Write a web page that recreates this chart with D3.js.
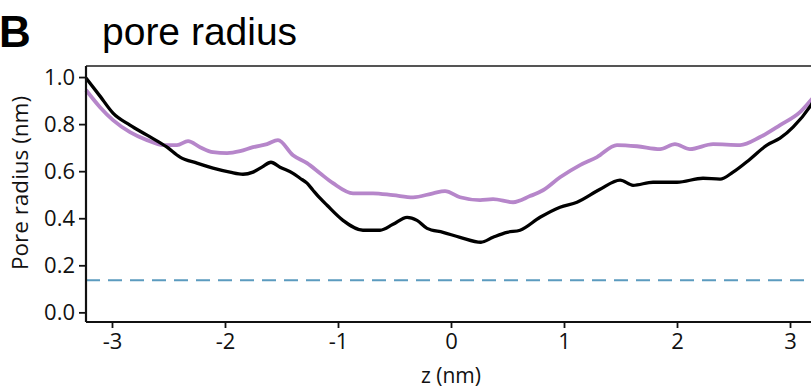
<!DOCTYPE html>
<html>
<head>
<meta charset="utf-8">
<script src="https://cdn.jsdelivr.net/npm/d3@7"></script>
<style>
  html, body { margin: 0; padding: 0; background: #fff; }
  svg { display: block; }
</style>
</head>
<body>
<svg id="chart" width="811" height="388"></svg>
<script>
// ---- data ----
const blackZ = [-3.23,-3.106,-2.991,-2.841,-2.690,-2.513,-2.398,-2.248,-2.106,-1.956,-1.841,-1.752,-1.673,-1.593,-1.513,-1.398,-1.336,-1.274,-1.221,-1.159,-1.097,-0.956,-0.779,-0.628,-0.513,-0.389,-0.301,-0.212,-0.071,0.080,0.265,0.372,0.496,0.611,0.788,0.965,1.115,1.319,1.496,1.611,1.788,2.000,2.230,2.381,2.496,2.646,2.796,2.912,3.027,3.186,3.23];
const blackR = [0.996,0.919,0.847,0.796,0.753,0.702,0.660,0.634,0.613,0.596,0.587,0.596,0.617,0.638,0.617,0.591,0.570,0.549,0.519,0.485,0.455,0.391,0.349,0.349,0.374,0.404,0.391,0.357,0.340,0.319,0.298,0.319,0.340,0.349,0.404,0.447,0.468,0.523,0.562,0.540,0.553,0.553,0.570,0.566,0.596,0.651,0.711,0.740,0.787,0.881,0.915];
const purpleZ = [-3.23,-3.106,-2.991,-2.841,-2.690,-2.549,-2.425,-2.327,-2.221,-2.106,-1.982,-1.867,-1.752,-1.628,-1.531,-1.398,-1.274,-1.159,-1.044,-0.867,-0.690,-0.513,-0.336,-0.159,-0.053,0.080,0.257,0.372,0.549,0.699,0.814,0.965,1.142,1.292,1.469,1.646,1.850,1.982,2.115,2.319,2.558,2.735,2.912,3.088,3.186,3.23];
const purpleR = [0.945,0.872,0.817,0.766,0.732,0.711,0.711,0.728,0.702,0.681,0.677,0.685,0.702,0.715,0.732,0.668,0.634,0.591,0.549,0.506,0.506,0.498,0.489,0.506,0.515,0.489,0.477,0.481,0.468,0.494,0.519,0.574,0.626,0.660,0.711,0.706,0.694,0.715,0.694,0.715,0.711,0.745,0.796,0.851,0.902,0.925];
const thresholdR = 0.136;
const xTicks = [-3, -2, -1, 0, 1, 2, 3];
const yTicks = [0.0, 0.2, 0.4, 0.6, 0.8, 1.0];
const xDomain = [-3.23, 3.23];
const yDomain = [-0.041, 1.047];

// ---- layout ----
const svg = d3.select("#chart");
const mLeft = 86, mRight = 816, mTop = 66, mBottom = 322;
const x = d3.scaleLinear().domain(xDomain).range([mLeft, mRight]);
const y = d3.scaleLinear().domain(yDomain).range([mBottom, mTop]);
const tickFont = "'Open Sans', 'Noto Sans', sans-serif";

// top frame
svg.append("line")
  .attr("x1", mLeft).attr("x2", 811).attr("y1", mTop).attr("y2", mTop)
  .attr("stroke", "#555").attr("stroke-width", 2);

// dashed threshold
svg.append("line")
  .attr("x1", x(xDomain[0])).attr("x2", x(xDomain[1]))
  .attr("y1", y(thresholdR)).attr("y2", y(thresholdR))
  .attr("stroke", "#5b9bbf").attr("stroke-width", 2)
  .attr("stroke-dasharray", "14,8");

const line = d3.line().x(d => x(d[0])).y(d => y(d[1])).curve(d3.curveMonotoneX);

svg.append("path")
  .datum(purpleZ.map((z, i) => [z, purpleR[i]]))
  .attr("d", line).attr("fill", "none")
  .attr("stroke", "#b686ca").attr("stroke-width", 3.8);

svg.append("path")
  .datum(blackZ.map((z, i) => [z, blackR[i]]))
  .attr("d", line).attr("fill", "none")
  .attr("stroke", "#000").attr("stroke-width", 3.3);

// axes
const xAxis = svg.append("g").attr("transform", `translate(0,${mBottom})`)
  .call(d3.axisBottom(x).tickValues(xTicks).tickSize(6).tickPadding(5).tickFormat(d3.format("d")));
const yAxis = svg.append("g").attr("transform", `translate(${mLeft},0)`)
  .call(d3.axisLeft(y).tickValues(yTicks).tickSize(7).tickPadding(4).tickFormat(d3.format(".1f")));

[xAxis, yAxis].forEach(g => {
  g.attr("font-size", 22).attr("font-family", tickFont);
  g.select(".domain").attr("stroke", "#111").attr("stroke-width", 2.2);
  g.selectAll(".tick line").attr("stroke", "#111").attr("stroke-width", 1.8);
  g.selectAll(".tick text").attr("fill", "#111")
    .style("font-family", tickFont).style("font-size", "22px");
});
xAxis.select(".domain").attr("d", `M${mLeft},0H811`);
yAxis.select(".domain").attr("d", `M0,${mTop}V${mBottom}`);
xAxis.selectAll(".tick text").text(d => d < 0 ? "-" + Math.abs(d) : d);

// labels
svg.append("text").attr("x", 451).attr("y", 383).attr("text-anchor", "middle")
  .style("font-family", tickFont).style("font-size", "21px").attr("fill", "#111")
  .text("z (nm)");
svg.append("text").attr("transform", "translate(28,183) rotate(-90)")
  .attr("text-anchor", "middle")
  .style("font-family", tickFont).style("font-size", "22.5px").attr("fill", "#111")
  .text("Pore radius (nm)");

// titles
svg.append("text").attr("x", -1).attr("y", 47)
  .style("font-family", "'Liberation Sans', Arial, sans-serif").style("font-weight", "bold")
  .style("font-size", "44px").attr("fill", "#000").text("B");
svg.append("text").attr("x", 102).attr("y", 45)
  .style("font-family", "'Liberation Sans', Arial, sans-serif")
  .style("font-size", "39px").attr("fill", "#000").text("pore radius");
</script>
</body>
</html>
